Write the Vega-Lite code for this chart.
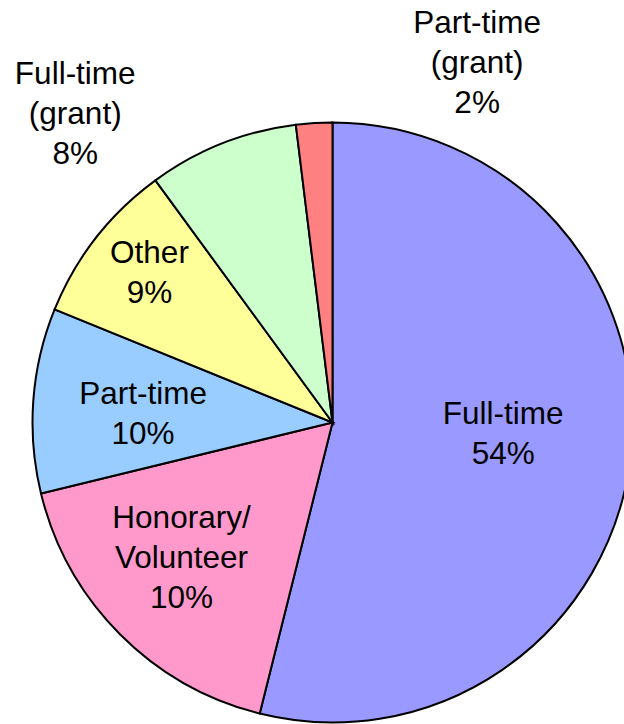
{
  "$schema": "https://vega.github.io/schema/vega-lite/v6.json",
  "width": 583,
  "height": 603,
  "padding": {"left": 41, "top": 121, "right": 0, "bottom": 0},
  "autosize": {"type": "none"},
  "background": "white",
  "config": {"view": {"stroke": null}},
  "data": {
    "values": [
      {"category": "Full-time", "value": 53.9, "label": "Full-time\n54%"},
      {"category": "Honorary/Volunteer", "value": 17.3, "label": "Honorary/\nVolunteer\n10%"},
      {"category": "Part-time", "value": 9.95, "label": "Part-time\n10%"},
      {"category": "Other", "value": 8.8, "label": "Other\n9%"},
      {"category": "Full-time (grant)", "value": 8.1, "label": "Full-time\n(grant)\n8%"},
      {"category": "Part-time (grant)", "value": 1.95, "label": "Part-time\n(grant)\n2%"}
    ]
  },
  "encoding": {
    "theta": {"field": "value", "type": "quantitative", "stack": true},
    "order": {"field": "value", "type": "quantitative", "sort": "descending"}
  },
  "layer": [
    {
      "mark": {"type": "arc", "outerRadius": 300, "stroke": "black", "strokeWidth": 2},
      "encoding": {
        "color": {
          "field": "category",
          "type": "nominal",
          "scale": {
            "domain": ["Full-time", "Honorary/Volunteer", "Part-time", "Other", "Full-time (grant)", "Part-time (grant)"],
            "range": ["#9999FF", "#FF99CC", "#99CCFF", "#FFFF99", "#CCFFCC", "#FF8080"]
          },
          "legend": null
        }
      }
    },
    {
      "mark": {"type": "text", "radius": 171, "dx": 1, "dy": -28, "font": "Liberation Sans", "fontSize": 31.5, "lineHeight": 40, "lineBreak": "\n", "align": "center", "baseline": "middle", "color": "black"},
      "encoding": {"text": {"condition": {"test": "datum.category === 'Full-time'", "field": "label"}, "value": ""}}
    },
    {
      "mark": {"type": "text", "radius": 203, "dx": -7, "dy": -47, "font": "Liberation Sans", "fontSize": 31.5, "lineHeight": 40, "lineBreak": "\n", "align": "center", "baseline": "middle", "color": "black"},
      "encoding": {"text": {"condition": {"test": "datum.category === 'Honorary/Volunteer'", "field": "label"}, "value": ""}}
    },
    {
      "mark": {"type": "text", "radius": 190, "dx": 0, "dy": -13, "font": "Liberation Sans", "fontSize": 31.5, "lineHeight": 40, "lineBreak": "\n", "align": "center", "baseline": "middle", "color": "black"},
      "encoding": {"text": {"condition": {"test": "datum.category === 'Part-time'", "field": "label"}, "value": ""}}
    },
    {
      "mark": {"type": "text", "radius": 236, "dx": 3, "dy": -23, "font": "Liberation Sans", "fontSize": 31.5, "lineHeight": 40, "lineBreak": "\n", "align": "center", "baseline": "middle", "color": "black"},
      "encoding": {"text": {"condition": {"test": "datum.category === 'Other'", "field": "label"}, "value": ""}}
    },
    {
      "mark": {"type": "text", "radius": 381, "dx": -117, "dy": 7, "font": "Liberation Sans", "fontSize": 31.5, "lineHeight": 40, "lineBreak": "\n", "align": "center", "baseline": "middle", "color": "black"},
      "encoding": {"text": {"condition": {"test": "datum.category === 'Full-time (grant)'", "field": "label"}, "value": ""}}
    },
    {
      "mark": {"type": "text", "radius": 349, "dx": 166, "dy": -50, "font": "Liberation Sans", "fontSize": 31.5, "lineHeight": 40, "lineBreak": "\n", "align": "center", "baseline": "middle", "color": "black"},
      "encoding": {"text": {"condition": {"test": "datum.category === 'Part-time (grant)'", "field": "label"}, "value": ""}}
    }
  ]
}
